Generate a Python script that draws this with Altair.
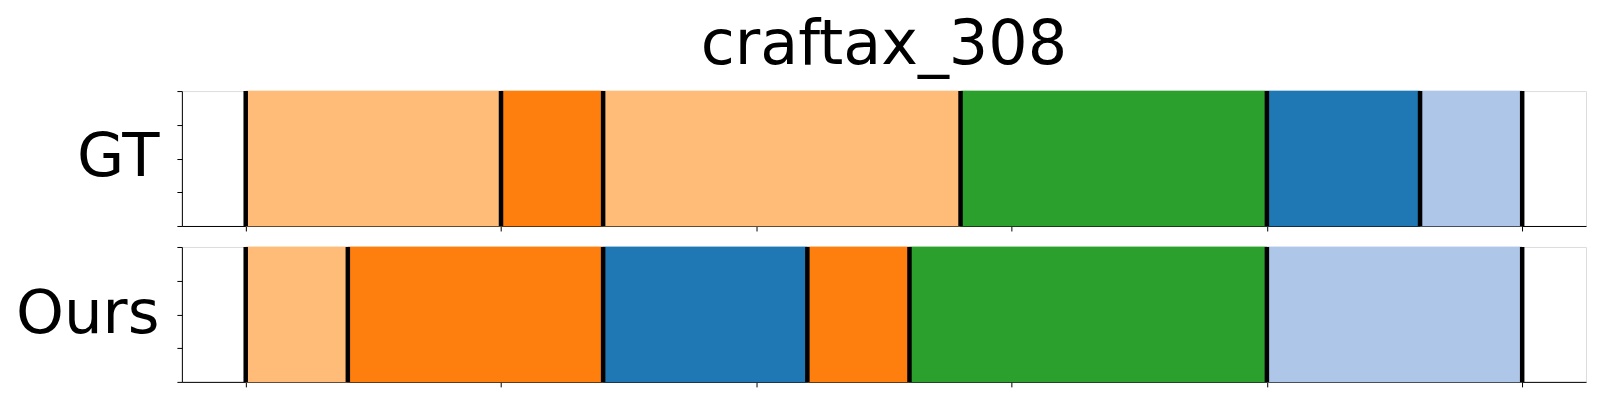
import altair as alt
import pandas as pd

# ---- data ----
gt_starts = [0, 5, 7, 14, 20, 23]
gt_ends = [5, 7, 14, 20, 23, 25]
gt_labels = ["c_lightorange", "c_orange", "c_lightorange", "c_green", "c_blue", "c_lightblue"]

ours_starts = [0, 2, 7, 11, 13, 20]
ours_ends = [2, 7, 11, 13, 20, 25]
ours_labels = ["c_lightorange", "c_orange", "c_blue", "c_orange", "c_green", "c_lightblue"]

x_ticks = [0, 5, 10, 15, 20, 25]
y_ticks = [0, 0.25, 0.5, 0.75, 1]

cat_domain = ["c_blue", "c_lightblue", "c_orange", "c_lightorange", "c_green"]
cat_range = ["#1f77b4", "#aec7e8", "#ff7f0e", "#ffbb78", "#2ca02c"]

FONT = "DejaVu Sans"
W, H = 1405, 135


def panel(name, starts, ends, labels, title_y, title=None):
    seg = pd.DataFrame({"start": starts, "end": ends, "label": labels})
    bnd = pd.DataFrame({"b": sorted(set(starts) | set(ends))})
    xscale = alt.Scale(domain=[-1.25, 26.25], nice=False, zero=False)
    yscale = alt.Scale(domain=[0, 1], nice=False, zero=False)
    xaxis = alt.Axis(values=x_ticks, labels=False, title=None, grid=False,
                     tickSize=5, tickColor="black", domainColor="black")
    yaxis = alt.Axis(values=y_ticks, labels=False, grid=False, tickSize=5,
                     tickColor="black", domainColor="black",
                     title=name, titleAngle=0, titleFontSize=61, titleFont=FONT,
                     titleFontWeight="normal", titleColor="black",
                     titleAlign="right", titleBaseline="alphabetic",
                     titleX=-23, titleY=title_y)
    rects = alt.Chart(seg).mark_rect(strokeWidth=0.8).encode(
        x=alt.X("start:Q", scale=xscale, axis=xaxis),
        x2="end:Q",
        y=alt.Y(datum=0, scale=yscale, axis=yaxis),
        y2=alt.Y2(datum=1),
        color=alt.Color("label:N", scale=alt.Scale(domain=cat_domain, range=cat_range), legend=None),
        stroke=alt.Stroke("label:N", scale=alt.Scale(domain=cat_domain, range=cat_range), legend=None),
    )
    rules = alt.Chart(bnd).mark_rule(color="black", strokeWidth=4.5).encode(
        x=alt.X("b:Q", scale=xscale, axis=xaxis),
        y=alt.Y(datum=0, scale=yscale, axis=yaxis),
        y2=alt.Y2(datum=1),
    )
    ch = alt.layer(rects, rules).properties(width=W, height=H)
    if title is not None:
        ch = ch.properties(title=alt.Title(title, fontSize=62, font=FONT, fontWeight="normal",
                                           color="black", anchor="middle", frame="group",
                                           offset=12))
    return ch


top = panel("GT", gt_starts, gt_ends, gt_labels, 84, title="craftax_308")
bottom = panel("Ours", ours_starts, ours_ends, ours_labels, 86)

chart = alt.vconcat(top, bottom, spacing=12).properties(
    padding={"left": 6, "top": 5, "right": 5, "bottom": 5}
).configure_view(stroke="black", strokeWidth=1.2).configure(background="white")

chart.save("out.html", embed_options={"renderer": "svg", "actions": False})
